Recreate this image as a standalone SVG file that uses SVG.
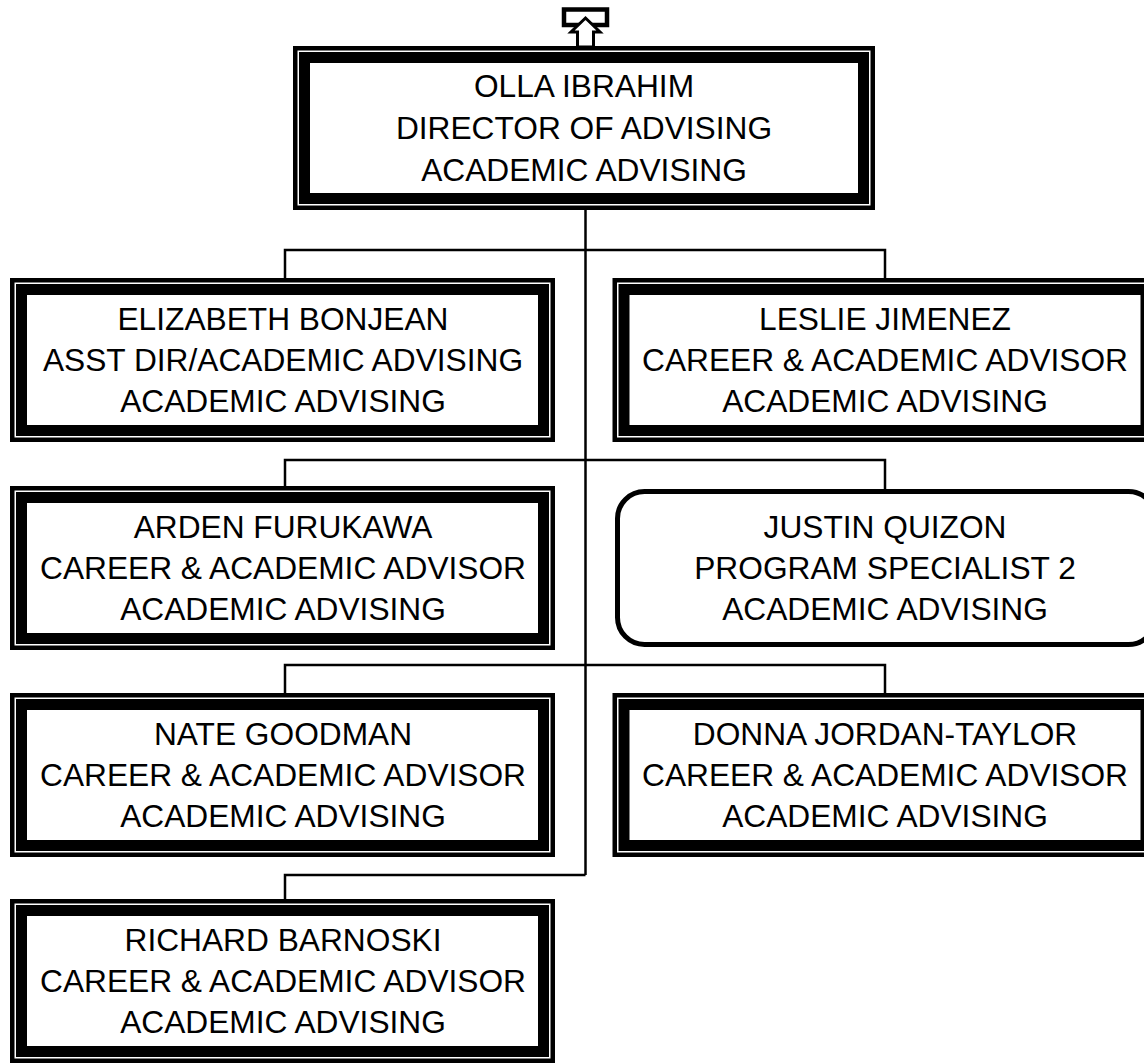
<svg xmlns="http://www.w3.org/2000/svg" width="1144" height="1063" viewBox="0 0 1144 1063">
<style>
.o{fill:#fff;stroke:#000;stroke-width:4.5}
.t{fill:none;stroke:#000;stroke-width:11}
.c{fill:none;stroke:#000;stroke-width:2.5}
text{font-family:"Liberation Sans",Arial,sans-serif;font-size:31.7px;fill:#000;text-anchor:middle}
</style>
<rect width="1144" height="1063" fill="#fff"/>
<g id="connectors">
<path class="c" d="M585.5 210V875"/>
<path class="c" d="M285 278V250H885V278"/>
<path class="c" d="M285 488V460H885V490"/>
<path class="c" d="M285 694V665H885V694"/>
<path class="c" d="M285 899V875H585.5"/>
</g>
<g id="icon">
<rect x="564" y="9.5" width="43" height="15.5" fill="#fff" stroke="#000" stroke-width="4.5"/>
<polygon points="585.5,18 600,32 593.5,32 593.5,47 577.5,47 577.5,32 571,32" fill="#fff" stroke="#000" stroke-width="3"/>
</g>
<g id="olla">
<rect class="o" x="295.25" y="48.25" width="577.5" height="159.5"/>
<rect class="t" x="304.5" y="57.5" width="559" height="141"/>
<text x="584" y="97">OLLA IBRAHIM</text>
<text x="584" y="139">DIRECTOR OF ADVISING</text>
<text x="584" y="181">ACADEMIC ADVISING</text>
</g>
<g id="elizabeth">
<rect class="o" x="12.25" y="280.25" width="540.5" height="159.5"/>
<rect class="t" x="21.5" y="289.5" width="522" height="141"/>
<text x="283" y="330">ELIZABETH BONJEAN</text>
<text x="283" y="371">ASST DIR/ACADEMIC ADVISING</text>
<text x="283" y="412">ACADEMIC ADVISING</text>
</g>
<g id="leslie">
<rect class="o" x="614.75" y="280.25" width="540.5" height="159.5"/>
<rect class="t" x="624" y="289.5" width="522" height="141"/>
<text x="885" y="330">LESLIE JIMENEZ</text>
<text x="885" y="371">CAREER &amp; ACADEMIC ADVISOR</text>
<text x="885" y="412">ACADEMIC ADVISING</text>
</g>
<g id="arden">
<rect class="o" x="12.25" y="488.25" width="540.5" height="159.5"/>
<rect class="t" x="21.5" y="497.5" width="522" height="141"/>
<text x="283" y="538">ARDEN FURUKAWA</text>
<text x="283" y="579">CAREER &amp; ACADEMIC ADVISOR</text>
<text x="283" y="620">ACADEMIC ADVISING</text>
</g>
<g id="justin">
<rect x="617.5" y="491.5" width="538" height="153" rx="27" fill="#fff" stroke="#000" stroke-width="5"/>
<text x="885" y="538">JUSTIN QUIZON</text>
<text x="885" y="579">PROGRAM SPECIALIST 2</text>
<text x="885" y="620">ACADEMIC ADVISING</text>
</g>
<g id="nate">
<rect class="o" x="12.25" y="695.25" width="540.5" height="159.5"/>
<rect class="t" x="21.5" y="704.5" width="522" height="141"/>
<text x="283" y="745">NATE GOODMAN</text>
<text x="283" y="786">CAREER &amp; ACADEMIC ADVISOR</text>
<text x="283" y="827">ACADEMIC ADVISING</text>
</g>
<g id="donna">
<rect class="o" x="614.75" y="695.25" width="540.5" height="159.5"/>
<rect class="t" x="624" y="704.5" width="522" height="141"/>
<text x="885" y="745">DONNA JORDAN-TAYLOR</text>
<text x="885" y="786">CAREER &amp; ACADEMIC ADVISOR</text>
<text x="885" y="827">ACADEMIC ADVISING</text>
</g>
<g id="richard">
<rect class="o" x="12.25" y="901.25" width="540.5" height="159.5"/>
<rect class="t" x="21.5" y="910.5" width="522" height="141"/>
<text x="283" y="951">RICHARD BARNOSKI</text>
<text x="283" y="992">CAREER &amp; ACADEMIC ADVISOR</text>
<text x="283" y="1033">ACADEMIC ADVISING</text>
</g>
</svg>
